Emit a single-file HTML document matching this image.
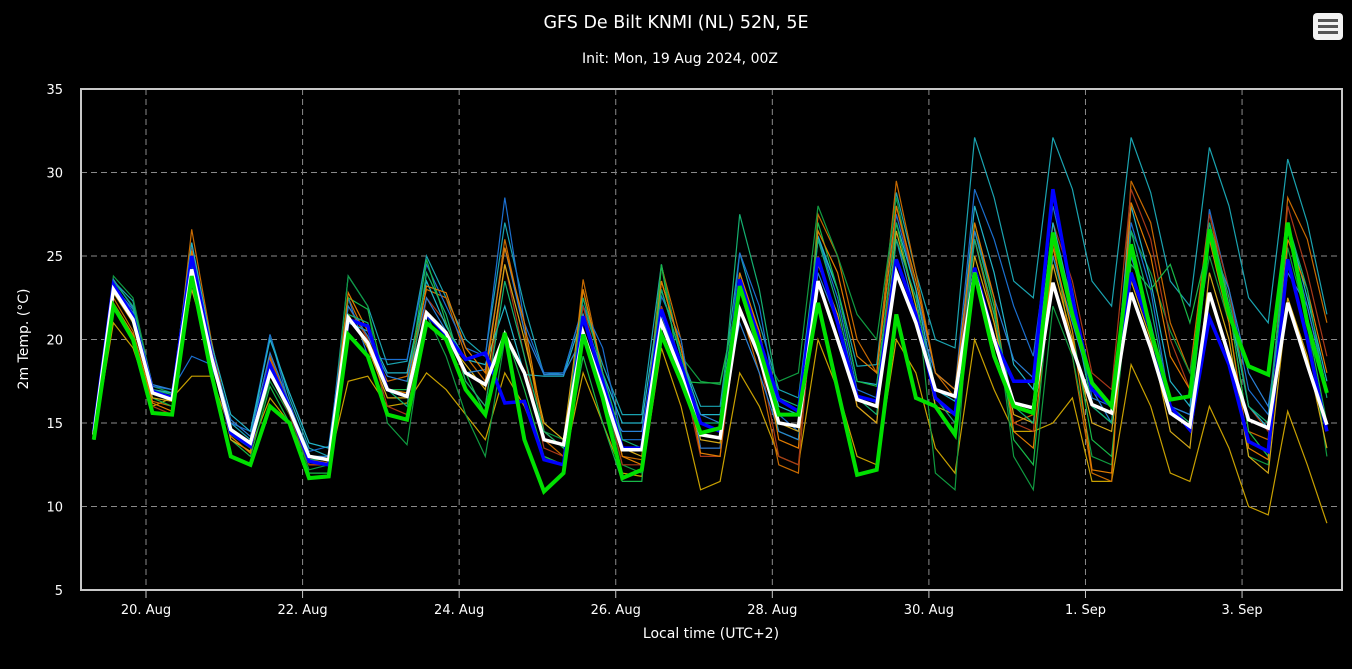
<!DOCTYPE html>
<html><head><meta charset="utf-8"><style>
html,body{margin:0;padding:0;background:#000;}
body{width:1352px;height:665px;overflow:hidden;font-family:"DejaVu Sans",sans-serif;}
svg text{font-family:"DejaVu Sans","Liberation Sans",sans-serif;}
</style></head><body>
<svg id="chart" width="1352" height="665" xmlns="http://www.w3.org/2000/svg">
<rect width="1352" height="665" fill="#000"/>
<text x="676" y="28" fill="#fff" font-size="17.5" text-anchor="middle">GFS De Bilt KNMI (NL) 52N, 5E</text>
<text x="680" y="63" fill="#fff" font-size="14" text-anchor="middle">Init: Mon, 19 Aug 2024, 00Z</text>
<g>
<rect x="1313" y="13" width="30" height="27" rx="4" fill="#f2f2f2"/>
<rect x="1318" y="19" width="20" height="3" fill="#555"/>
<rect x="1318" y="25" width="20" height="3" fill="#555"/>
<rect x="1318" y="31" width="20" height="3" fill="#555"/>
</g>
<g id="grid"></g>
<g id="series"></g>
<rect x="81" y="89" width="1261" height="501" fill="none" stroke="#c8c8c8" stroke-width="2"/>
<g id="axes"></g>
<text transform="translate(28,339) rotate(-90)" fill="#fff" font-size="14" text-anchor="middle">2m Temp. (°C)</text>
<text x="711" y="638" fill="#fff" font-size="14" text-anchor="middle">Local time (UTC+2)</text>
</svg>
<script>
const yTicks=[5,10,15,20,25,30,35];
const xTickLabels=["20. Aug","22. Aug","24. Aug","26. Aug","28. Aug","30. Aug","1. Sep","3. Sep"];
const xTickHours=[24,72,120,168,216,264,312,360];
const nPoints=64;
const meanSeries=[14.3,23.0,21.2,16.8,16.4,24.2,19.0,14.6,13.8,18.0,15.8,13.0,12.8,21.3,19.8,17.0,16.6,21.6,20.4,18.0,17.3,20.3,18.0,14.0,13.7,20.4,17.0,13.4,13.4,21.0,18.0,14.3,14.1,21.8,19.0,15.0,14.8,23.5,20.0,16.4,16.0,24.0,21.0,17.0,16.6,24.0,20.0,16.2,15.9,23.4,19.5,16.1,15.6,22.8,19.5,15.6,14.8,22.8,19.0,15.2,14.7,22.2,18.5,14.9];
const controlSeries=[14.0,22.0,20.0,15.6,15.5,23.8,18.0,13.0,12.5,16.0,15.0,11.7,11.8,20.3,19.0,15.5,15.2,21.0,20.0,17.0,15.5,20.4,14.0,10.9,12.0,20.3,16.5,11.7,12.2,20.3,17.5,14.4,14.7,23.2,19.5,15.5,15.5,22.2,17.0,11.9,12.2,21.5,16.5,16.0,14.3,24.0,19.0,16.0,15.6,26.4,21.5,17.4,16.0,25.7,20.5,16.4,16.6,26.6,21.5,18.4,17.9,27.0,21.0,16.8];
const operSeries=[14.5,23.3,21.4,16.9,16.5,25.0,19.2,14.4,13.6,18.5,15.9,12.7,12.5,21.2,20.8,17.0,16.6,21.5,20.3,18.8,19.2,16.2,16.3,12.8,12.5,21.4,17.5,13.5,13.5,21.8,18.5,15.0,14.5,23.6,20.0,16.4,15.7,24.9,21.0,16.6,16.3,24.8,21.5,16.5,15.5,24.3,20.0,17.5,17.5,29.0,22.5,17.0,16.0,24.0,20.5,16.0,14.6,21.3,18.5,13.9,13.3,24.8,20.0,14.5];
const member01=[14.5,23.5,22.3,17,16.5,25.5,19.5,15,14,20.3,16.5,13.5,13,23.8,22,18.5,18.7,25,22.5,20,19,27,22,17.9,18,22,18.5,15.5,15.5,24.5,19,16,16,25.2,21,17,16.5,26,23,18.4,18.5,28.8,24,20,19.5,32.1,28.5,23.5,22.5,32.1,29,23.5,22,32.1,28.8,23.5,22,31.5,28,22.5,21,30.8,27,21.5];
const member02=[14,21,19.5,16,16.5,17.8,17.8,14.5,13.5,16.5,15,12.5,12.5,17.5,17.8,16,16.2,18,17,15.5,14,18,16,13,12.5,18,15,12,11.8,19.5,16,11,11.5,18,16,13,12.5,20,17,13,12.5,20,18,13.5,12,20,17,14.5,14.5,15,16.5,11.5,11.5,18.5,16,12,11.5,16,13.5,10,9.5,15.7,12.5,9];
const member03=[14.2,22.5,20.5,16.3,16,26.6,20,14.5,13.5,19,16,12.5,12.5,22.5,20,17.5,17.8,23,22.5,19,17.5,26,20.5,14,13,23.6,18,13,12.8,24.4,20,13.5,13.5,22,18,12.5,12,27.5,25,20,18,29.5,24,18,16.5,26,21,15,15.5,26,19,12,11.5,29.5,27,21,18,27.6,22,14.5,14,28.5,26,21];
const member04=[14,23.8,22.5,17.2,16.8,24,19.5,14.3,13.5,17.5,15.5,12.2,12.5,23.8,22,15,13.7,21.5,19,15.5,13,20,18,14.5,14,21.5,17,12.5,12,24.4,19,17.5,17.3,23,19.5,17.5,18,28,25,21.5,20,28.5,23,12,11,27,22,13,11,22,19,13,12.5,26.5,24,20.5,18,25,21,13,12.5,25.5,21,13];
const member05=[14.3,23.2,21.8,17.2,17,19,18.5,15,14.5,20.3,16,13.3,13.6,22.5,19,18.8,18.8,24.5,22,19.5,19,28.5,21,18,18,22,19.5,14,14,22.6,20,13.5,13.5,25.2,22,15.5,14.5,26,22.5,17,16.5,27.5,23,18,17,29,26,22,19,28,23,16.5,16,27,23,16,15.5,27.8,23,17,15.5,26.5,22,17];
const member06=[14.2,22,20,16,15.5,25.5,19.5,14.5,13.5,18,15.5,12.5,12.5,22,20,16,15.5,22.5,21,17.5,16,24.5,19,13.5,13,22,17.5,12.5,12.5,22,18.5,13,13,22,19,13,12.5,25,21,16,15,28,23,17,16.5,26,21.5,15,14.5,27,23.5,18,17,29,26,20,17,27.5,23,16,14.5,28,24,19];
const member07=[14.6,23.4,21.6,17,16.8,25.8,19.8,15.5,14.5,20,16.8,13.8,13.5,21,20.5,18,18,23.5,20.8,18.8,18.5,22,17.9,17.8,17.8,21.5,18,15,15,23,19,15.5,15.5,24,20,16,15.5,26.2,23,17.5,17.3,27,23,17,16.3,28,24,18.5,17,27,22,16,15,28,23.5,17.5,16,27,22,16,14.7,27,22.5,17.5];
const member08=[14.1,23,21.2,16.5,16,24.5,19,14,13,17.2,15,12,12,22.5,21.8,17,17,24.8,21,18,15.5,20.5,17,13,12.5,19,15,11.5,11.5,24.5,17.5,17.4,17.4,23,19,14.5,14,27,23,17.5,17.2,27,22,16,14.5,26.5,22,14,12.5,25,20.5,14,13,24.5,23,24.5,21,26,22,14.5,13,27,21,15];
const member09=[14.3,22.8,21,16.5,16.3,23,19,14,13.3,18.5,16,13,12.7,21.5,19.5,16.5,16.5,21,20,18.5,17,24.5,20,15,14,23,18,13.5,13,23.5,19.5,14,13.8,23.5,20.5,15,14.5,24.5,21.5,16,15,26.5,22,16,15.5,25,21,15.5,15,24.5,20,15,14.5,23.5,20,14.5,13.5,24,20,13,12,22.5,19,13.5];
const member10=[14.4,23.6,21.9,17.3,17,24.8,19.2,15.2,14.2,19.2,16.2,13,13,22,20.2,17.8,17.5,22.5,20.5,18,18.2,25.5,20.5,17.9,17.9,20.2,16.5,14.5,14.5,21.5,18,15.5,15,21,18,14.5,14,24,21,16.5,16,26,21.5,18,17,26.5,22.5,18.8,17.7,25,21,17,15,25,21,16,15.5,26,23,18,16,24,22,17];
const member11=[14.2,22.2,20.3,16.2,15.7,25.3,19.6,14.2,13.2,18.8,15.8,12.8,12.6,22.8,20.5,17,16.8,23.2,22.8,19.5,18,25.5,21,14.5,13.5,23,17.8,13,12.5,23.5,19.5,13.2,13,24,20.5,14,13.5,26.5,24,19,18,28,23.5,18,17,27,22.5,14.5,13.5,25.5,20.5,12.2,12,28.2,25,19,17,26,21,13.5,12.8,26,23,18];
const member12=[14,23.5,22,17,16.7,24.2,19.3,14.7,13.8,18,15.6,12.8,12.8,21.5,21,17,16,24,21.5,17.5,16,23.5,19,14.5,13.5,22.5,18,14,13.5,23,19,15,15,27.5,23,16.5,16,26,22,16.5,15.5,26,22.5,16.5,15,26,21.5,16,15,26,22.5,16,15,26.5,22,16,15,27,22.5,16,15,27,23,16.5];

const X0=146, DAYPX=78.29, Y0=590, Y1=89, VMIN=5, VMAX=35;
function xScale(h){return X0+(h-24)*DAYPX/24;}
function yScale(v){return Y0-(v-VMIN)*(Y0-Y1)/(VMAX-VMIN);}
function hourOf(i){return 8+6*i;}
const NS="http://www.w3.org/2000/svg";
const grid=document.getElementById('grid'), axes=document.getElementById('axes'), ser=document.getElementById('series');
yTicks.forEach(function(v){
  const y=yScale(v);
  if(v>VMIN&&v<VMAX){
    const l=document.createElementNS(NS,'line');
    
    
    l.setAttribute('x1',81);l.setAttribute('x2',1342);l.setAttribute('y1',y);l.setAttribute('y2',y);
    l.setAttribute('stroke','#8a8a8a');l.setAttribute('stroke-dasharray','6,4');l.setAttribute('stroke-width','1');
    grid.appendChild(l);
  }
  const t=document.createElementNS(NS,'text');
  
  
  t.setAttribute('x',63);t.setAttribute('y',y+5);t.setAttribute('fill','#fff');t.setAttribute('font-size','13');t.setAttribute('text-anchor','end');
  t.textContent=v;axes.appendChild(t);
});
xTickHours.forEach(function(h,k){
  const x=xScale(h);
  const l=document.createElementNS(NS,'line');
  
  
  l.setAttribute('x1',x);l.setAttribute('x2',x);l.setAttribute('y1',89);l.setAttribute('y2',590);
  l.setAttribute('stroke','#8a8a8a');l.setAttribute('stroke-dasharray','6,4');l.setAttribute('stroke-width','1');
  grid.appendChild(l);
  const tk=document.createElementNS(NS,'line');
  
  
  tk.setAttribute('x1',x);tk.setAttribute('x2',x);tk.setAttribute('y1',590);tk.setAttribute('y2',598);tk.setAttribute('stroke','#c8c8c8');
  axes.appendChild(tk);
  const t=document.createElementNS(NS,'text');
  
  
  t.setAttribute('x',x);t.setAttribute('y',614);t.setAttribute('fill','#fff');t.setAttribute('font-size','13');t.setAttribute('text-anchor','middle');
  t.textContent=xTickLabels[k];axes.appendChild(t);
});
function drawLine(vals,color,width,name){
  let d='';
  vals.forEach(function(v,i){d+=(i?'L':'M')+xScale(hourOf(i)).toFixed(1)+','+yScale(v).toFixed(1);});
  const p=document.createElementNS(NS,'path');
  
  
  p.setAttribute('d',d);p.setAttribute('fill','none');p.setAttribute('stroke',color);p.setAttribute('stroke-width',width);p.setAttribute('stroke-linejoin','miter');
  ser.appendChild(p);
}
const members=[member01,member02,member03,member04,member05,member06,member07,member08,member09,member10,member11,member12];
const memberColors=["#1aa3b0","#c8a000","#c86a00","#109a40","#1b6fd0","#a83818","#22b4c8","#18b848","#d4a817","#2a80d4","#e07b00","#14b070"];
members.forEach(function(m,k){drawLine(m,memberColors[k],1.2,'ensemble-member-line');});
drawLine(operSeries,'#0000ff',3.5,'operational-run-line');
drawLine(meanSeries,'#ffffff',3.5,'ensemble-mean-line');
drawLine(controlSeries,'#00e000',4,'control-run-line');
</script>
</body></html>
